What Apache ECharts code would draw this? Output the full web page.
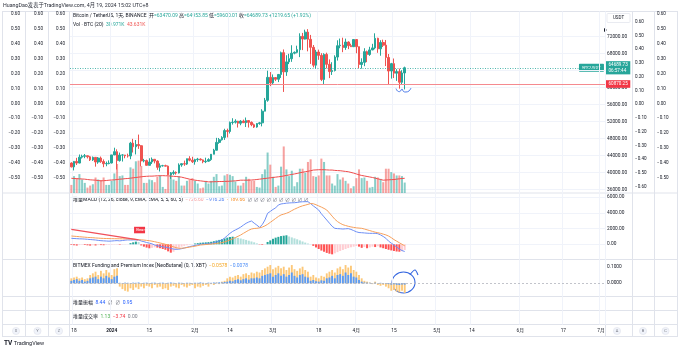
<!DOCTYPE html>
<html>
<head>
<meta charset="utf-8">
<script src="https://cdn.jsdelivr.net/npm/echarts@6/dist/echarts.min.js"></script>
<style>
  html, body { margin: 0; padding: 0; background: #fff; }
  #main { width: 680px; height: 351px; }
</style>
</head>
<body>
<div id="main"></div>
<script>
// daily candles, Dec 17 2023 .. Apr 19 2024 : [open, high, low, close]
const ohlc = [
  [42278,42436,41251,41374],[41374,42757,40530,42657],[42657,43497,41811,42271],[42271,44283,42213,43652],
  [43652,44240,43330,43869],[43869,44398,43412,43997],[43997,44000,43351,43740],[43740,43946,42756,43016],
  [43016,43809,42766,43614],[43614,43638,41424,42520],[42520,43684,42098,43443],[43443,43804,42318,42627],
  [42627,43125,41300,42099],[42099,42612,41520,42156],[42156,42899,41965,42284],
  [42284,44184,42181,44180],[44180,45879,44149,44946],[44946,45500,40750,42846],[42846,44729,42613,44151],
  [44151,44340,42626,44162],[44162,44187,43397,43975],[43975,44481,43561,43929],[43929,47248,43176,46952],
  [46952,47972,44748,46105],[46105,47695,44300,46633],[46633,48969,45606,46346],[46346,46498,41500,42782],
  [42782,43257,42436,42847],[42847,43079,41720,41732],[41732,43400,41718,42511],[42511,43578,42050,43154],
  [43154,43198,42200,42742],[42742,42930,40683,41262],[41262,42196,40280,41618],[41618,41851,41446,41665],
  [41665,41882,41500,41545],[41545,41689,39431,39507],[39507,40129,38555,39845],[39845,40555,39484,40077],
  [40077,40300,39550,39933],[39933,42200,39822,41816],[41816,42200,41395,42120],[42120,42842,41620,42031],
  [42031,43305,41804,43300],[43300,43882,42683,42946],[42946,43745,42276,42580],
  [42580,43285,41884,43082],[43082,43488,42574,43200],[43200,43380,42880,43011],[43011,43119,42222,42582],
  [42582,43535,42259,42708],[42708,43399,42574,43087],[43087,44396,42788,44342],[44342,45614,44331,45293],
  [45293,48200,45242,47132],[47132,48170,46800,47751],[47751,48592,47558,48300],[48300,50334,47710,49917],
  [49917,50368,48300,49699],[49699,52043,49226,51795],[51795,52816,51314,51880],[51880,52572,51566,52124],
  [52124,52191,50625,51642],[51642,52377,51163,52137],[52137,52488,51677,51774],[51774,52985,50760,52258],
  [52258,52366,50625,51849],[51849,52065,50940,51288],[51288,51548,50521,50744],[50744,51698,50585,51569],
  [51569,51950,51280,51728],[51728,54938,50901,54476],[54476,57588,54450,57037],[57037,64000,56691,62432],
  [62432,63676,60364,61130],
  [61130,63114,60777,62387],[62387,62433,61561,61987],[61987,63231,61321,63113],[63113,68499,62300,68245],
  [68245,69000,59005,63724],[63724,67641,62779,66074],[66074,67980,65551,66823],[66823,69990,66082,68124],
  [68124,68541,67861,68313],[68313,69887,68094,68955],[68955,72800,67194,72078],[72078,72890,68845,71452],
  [71452,73650,71333,73072],[73072,73777,68555,71388],[71388,72419,65600,69499],[69499,70043,64780,65300],
  [65300,68904,64533,68393],[68393,68956,66565,67609],[67609,68124,61555,61937],[61937,68100,60775,67840],
  [67840,68240,64529,65501],[65501,66650,62260,63796],[63796,65999,63000,64037],[64037,67622,63825,67211],
  [67211,71150,66385,69880],[69880,71561,69280,69988],[69988,71769,68359,69455],[69455,71552,68903,70745],
  [70745,70913,69076,69892],[69892,70355,69601,69645],[69645,71377,69624,71334],
  [71334,71342,68110,69650],[69650,69674,64550,65463],[65463,66914,64493,65963],[65963,69291,65064,68487],
  [68487,68725,66011,67820],[67820,69629,67491,68896],[68896,70326,68824,69360],[69360,72797,69043,71620],
  [71620,71758,68210,69146],[69146,71172,67518,70631],[70631,71305,69567,70006],[70006,71227,65086,67117],
  [67117,67932,60660,63924],[63924,65840,62134,65662],[65662,66867,62274,63419],[63419,64365,61600,63793],
  [63793,64486,59768,61277],[61277,64125,60833,63470],[63470,64953.85,59600.01,64689.73]
];

// volume in thousands of BTC
const volume = [
  24,50,44,56,40,30,16,22,26,46,40,38,46,24,24,
  36,58,86,50,52,24,24,76,72,94,96,80,30,30,40,38,32,48,52,18,12,50,62,40,36,50,22,22,36,40,44,
  36,28,14,16,36,28,36,48,56,20,22,52,56,54,50,34,22,22,30,48,42,36,36,18,16,56,70,120,84,
  48,18,22,78,138,70,50,66,20,32,72,72,60,92,100,50,48,52,102,92,52,52,28,22,56,40,46,36,28,14,20,
  44,70,44,46,36,16,18,48,46,42,32,72,72,62,58,52,52,50,30.971
];
const volumeMa = [
  43.6,43,42.5,42,41.5,41,40, 39,38.5,38,37,36, 36.5,37,38,38.5,39,40, 41,41.5,42.5,43,44,
  45,46,47,48,49, 49.5,50,50,50.5,51,51,51.5,51,51, 50,49.5,49,48,47, 45,43,41,39.5,38,
  37,36,35,34,33, 33,33.5,33.5,34,34,34.5,34.5, 35,35.5,36,37,38, 38,38,38, 38.5,39,40,41,
  42,43,44,45,46,47,48,49, 50.5,52,53.5,55,56.5,58,60, 61.5,63,64.5,66,68,
  68.5,69,69,69,68.5,68,68, 67,66.5,66,65,64,63, 61,59,56.5,54, 52,50.5,49,47.5,46,
  44,42,40,38, 38.5,39,39.5,40,41, 42,43,43.631
];

const macdLine = [
  766,740,720,700,690,670,640,610,580,550,500,460,
  440,420,400,420,450,470,440,480,530,560,550,
  560,560,560,420,332,230,150,60,-90,
  -180,-260,-330,-360,-430,-540,-610,-640,-620,
  -560,-480,-383,-300,-220,-150,-80,0,
  30,50,70,128,200,310,430,550,
  800,1100,1400,1650,1826,2000,2200,2450,2680,2850,2975,
  2700,2450,2170,2500,3100,3960,
  4200,4450,4650,5020,5150,5200,5250,5280,5300,5310,
  5350,5400,5430,5440,5440,5200,4900,4650,4380,
  3900,3500,3100,2700,2300,2040,
  2000,1980,1950,1980,2000,1900,1750,1600,1500,1480,
  1450,1420,1400,1400,1400,1350,1200,1000,766,
  400,150,-90,-350,-600,-800,-916.26
];
const signalLine = [
  1060,1030,1000,970,940,910,880,860,840,810,790,766,
  750,740,730,720,715,710,705,700,695,690,680,
  660,630,600,570,540,500,460,
  400,330,250,170,90,0,-90,
  -200,-320,-430,-510,
  -500,-470,-420,-360,-300,-240,-170,-90,
  -60,-30,0,30,70,110,150,200,
  300,420,550,700,860,1020,1190,
  1400,1600,1800,1950,2020,2040,
  2100,2200,2350,2550,
  2800,3050,3300,3550,3750,3850,3960,
  4100,4300,4480,4640,4790,4910,5000,5100,5200,
  5180,5050,4900,4750,4580,4380,
  4000,3600,3200,2900,2680,
  2500,2400,2300,2220,2160,2100,2070,2040,
  1950,1850,1750,1650,1550,1480,1400,
  1300,1200,1050,850,600,400,200,0,-189.66
];
const macdHist = [
  -80,-120,-160,-100,-60,-90,-130,-170,-120,-150,-100,
  -100,-120,-90,-70,-60,-50,-40,-60,-40,-30,-10,
  150,250,340,300,
  -150,-300,-420,-510,-450,-380,-420,-500,-600,-700,
  -900,-1070,-950,
  -700,-450,-300,-200,-120,-60,-20,
  100,150,200,220,250,280,
  320,400,480,560,650,750,850,930,970,
  900,820,740,650,560,460,360,250,120,
  -40,-80,-30,
  300,500,700,850,950,1050,1100,1150,
  1000,880,760,640,500,360,220,100,20,
  -200,-400,-600,-800,-950,-1100,-1200,-1280,-1150,
  -1000,-850,-720,-600,-480,-380,-300,-220,
  -300,-450,-350,-500,-400,-300,-350,-250,
  -400,-500,-600,-700,-780,-850,-920,-950,-880,-726.6
];

const funding = [
  0.03,0.035,0.04,0.03,0.035,0.025,0.03,
  0.05,0.06,0.07,0.05,0.075,0.06,0.08,0.065,0.05,0.085,0.09,
  -0.02,-0.035,-0.045,-0.05,-0.03,-0.04,-0.025,-0.035,-0.02,-0.03,
  -0.015,-0.02,-0.03,-0.01,-0.025,-0.02,-0.035,-0.03,-0.04,-0.02,-0.015,-0.025,-0.03,-0.01,-0.02,
  -0.025,-0.015,-0.01,-0.03,-0.02,-0.025,-0.015,-0.01,-0.02,-0.005,-0.01,0.005,-0.005,0.01,0.015,
  0.03,0.04,0.035,0.045,0.05,0.04,0.055,0.06,0.05,0.065,
  0.06,0.07,0.065,0.08,0.09,0.1,0.11,0.085,0.095,0.105,0.09,0.1,0.08,0.095,0.11,0.085,0.075,0.09,0.1,0.08,0.07,
  0.04,0.05,0.035,0.03,0.045,0.04,
  0.06,0.07,0.08,0.065,0.09,0.1,0.085,0.11,0.095,0.105,0.08,0.07,
  0.05,0.03,0.015,0.01,0.005,-0.005,0.01,-0.01,-0.015,-0.01,
  -0.02,-0.03,-0.045,-0.04,-0.05,-0.055,-0.045,-0.0578
];
const premium = [
  0.015,0.02,0.025,0.015,0.02,0.01,0.015,0.03,0.035,0.04,0.025,0.04,0.03,0.045,0.035,0.025,0.04,0.045,
  0.003,0.002,0.004,0.003,0.002,0.004,0.003,0.005,0.002,0.003,0.004,0.002,0.003,0.004,0.002,0.003,
  0.004,0.002,0.003,0.005,0.003,0.002,0.004,0.003,0.002,0.004,0.003,0.002,0.004,0.003,0.005,0.003,
  0.002,0.004,0.003,0.005,0.004,0.006,0.005,0.008,
  0.01,0.015,0.012,0.02,0.025,0.018,0.025,0.03,0.022,0.03,
  0.03,0.035,0.03,0.045,0.05,0.055,0.06,0.04,0.05,0.06,0.045,0.055,0.04,0.05,0.065,0.045,0.035,0.05,0.055,0.04,0.035,
  0.015,0.02,0.012,0.01,0.018,0.015,
  0.03,0.035,0.045,0.03,0.05,0.055,0.045,0.065,0.05,0.06,0.04,0.035,
  0.02,0.01,0.005,0.004,0.003,0.002,0.004,0.002,0.003,0.002,
  -0.003,-0.005,-0.008,-0.006,-0.009,-0.01,-0.007,-0.0078
];

const tickIndex = [1, 15, 29, 46, 59, 75, 92, 106, 120, 136, 149, 167, 183, 197];
const tickText = ['18', '2024', '15', '2月', '14', '3月', '18', '4月', '15', '5月', '14', '6月', '17', '7月'];
const priceTicks = [36000, 40000, 44000, 48000, 52000, 56000, 60000, 64000, 68000, 72000];
const scaleTicksA = [-0.5, -0.4, -0.3, -0.2, -0.1, 0, 0.1, 0.2, 0.3, 0.4, 0.5, 0.6];
const scaleTicksB = [-0.6, -0.5, -0.4, -0.3, -0.2, -0.1, 0, 0.1, 0.2, 0.3, 0.4, 0.5, 0.6];
const macdTicks = [0, 2000, 4000, 6000];
const fundingTicks = [0, 0.1];
const lastPrice = 64689.73;
const levelPrice = 60870.25;

const startDay = Date.UTC(2023, 11, 17);
const categories = Array.from({ length: 199 }, (_, i) => new Date(startDay + i * 864e5).toISOString().slice(0, 10));

const FONT = 'Roboto, "Noto Sans CJK SC", sans-serif';
const UP = '#26a69a', DOWN = '#ef5350';
const GRID = '#f0f3fa', SEP = '#e0e3eb', TXT = '#131722';

const signed = (v, d) => (v < 0 ? '\u2212' + (-v).toFixed(d) : v.toFixed(d));
const labelAt = {};
tickIndex.forEach((k, j) => { labelAt[k] = tickText[j]; });

function xAxisFor(gi, showLabel) {
  return {
    type: 'category', gridIndex: gi, data: categories, boundaryGap: true,
    axisLine: { show: false }, axisTick: { show: false },
    axisLabel: {
      show: showLabel, interval: (i) => labelAt[i] !== undefined, margin: 4,
      fontSize: 4.8, color: TXT, fontFamily: FONT,
      formatter: (v, i) => (labelAt[i] === '2024' ? '{b|2024}' : labelAt[i]),
      rich: { b: { fontWeight: 'bold', fontSize: 4.8, color: TXT } }
    },
    splitLine: { show: true, interval: (i) => labelAt[i] !== undefined, lineStyle: { color: GRID, width: 1 } }
  };
}

function scaleAxis(pos, offset, margin, min, max, ticks) {
  return {
    type: 'value', gridIndex: 0, position: pos, offset: offset, min: min, max: max,
    axisLine: { show: false }, splitLine: { show: false },
    axisTick: { show: false, customValues: ticks },
    axisLabel: { customValues: ticks, margin: margin, fontSize: 4.6, color: TXT, fontFamily: FONT,
      formatter: (v) => signed(v, 2) }
  };
}

const histColor = macdHist.map((v, i) => {
  const p = i ? macdHist[i - 1] : 0;
  if (v >= 0) return v >= p ? '#26a69a' : '#b2dfdb';
  return v <= p ? '#ff5252' : '#ffcdd2';
});

function line(x1, y1, x2, y2, c) {
  return { type: 'line', silent: true, shape: { x1, y1, x2, y2 }, style: { stroke: c || SEP, lineWidth: 1 } };
}
function text(x, y, str, size, rich, extra) {
  return { type: 'text', silent: true, x: x, y: y,
    style: Object.assign({ text: str, fontSize: size, fontFamily: FONT, fill: TXT, verticalAlign: 'middle', rich: rich || {} }, extra || {}) };
}
function badge(x, y, ch) {
  return [
    { type: 'circle', silent: true, shape: { cx: x, cy: y, r: 3.6 }, style: { fill: '#f0f3fa', stroke: '#e0e3eb', lineWidth: 0.6 } },
    text(x, y + 0.2, ch, 4, null, { fill: '#787b86', align: 'center' })
  ];
}

const rc = (c, extra) => Object.assign({ fill: c, fontSize: 5, fontFamily: FONT }, extra || {});
const graphics = [
  line(2, 11.5, 678, 11.5), line(2, 193, 678, 193), line(2, 259.5, 678, 259.5),
  line(2, 296.5, 678, 296.5), line(2, 310.5, 678, 310.5), line(2, 324.5, 678, 324.5), line(2, 336.5, 678, 336.5),
  line(2.5, 11.5, 2.5, 336.5), line(25.5, 11.5, 25.5, 336.5), line(48.5, 11.5, 48.5, 336.5), line(69.5, 11.5, 69.5, 336.5),
  line(605.5, 11.5, 605.5, 336.5), line(632.5, 11.5, 632.5, 336.5), line(654.5, 11.5, 654.5, 336.5), line(677.5, 11.5, 677.5, 336.5),
  text(3, 6, 'HuangDao发表于TradingView.com, 4月 19, 2024 15:02 UTC+8', 5.3, null, { fill: '#2a2e39' }),
  text(73, 15.5, '{d|Bitcoin / TetherUS, 1天, BINANCE  开}{g|=63470.09} {d|高}{g|=64953.85} {d|低}{g|=59600.01} {d|收}{g|=64689.73} {g|+1219.65 (+1.92%)}', 5,
    { d: rc(TXT), g: rc(UP) }),
  text(73, 24.5, '{d|Vol · BTC (20)}  {g|30.971K}  {r|43.631K}', 5, { d: rc(TXT), g: rc(UP), r: rc(DOWN) }),
  text(73, 200, '{d|堆量MACD (12, 26, close, 9, EMA, EMA, 5, 5, 60, 5)}  {h|\u2212726.60}  {b|\u2212916.26}  {o|\u2212189.66}  {n|∅ ∅ ∅ ∅ ∅ ∅ ∅ ∅ ∅ ∅}', 5,
    { d: rc(TXT), h: rc('#f59ea0'), b: rc('#4f7ff0'), o: rc('#f5922f'), n: rc('#787b86') }),
  text(73, 265.7, '{d|BITMEX Funding and Premium Index [NeoButane] (0, 1, XBT)}  {o|\u22120.0578}  {b|\u22120.0078}', 5,
    { d: rc(TXT), o: rc('#f5a623'), b: rc('#4f8ff7') }),
  text(73, 302.5, '{d|堆量振幅}  {b|8.44}  {n|∅  ∅}  {b|0.95}', 5, { d: rc(TXT), b: rc('#2962ff'), n: rc('#787b86') }),
  text(73, 316.5, '{d|堆量成交率}  {g|1.13}  {r|\u22123.74}  {n|0.00}', 5, { d: rc(TXT), g: rc('#4caf50'), r: rc('#f23645'), n: rc('#787b86') }),
  { type: 'rect', silent: true, shape: { x: 607, y: 13.5, width: 23, height: 9, r: 1 }, style: { fill: '#fff', stroke: SEP, lineWidth: 0.7 } },
  text(618.5, 18, 'USDT', 4.5, null, { align: 'center' }),
  { type: 'polygon', silent: true, shape: { points: [[604, 28], [607, 30], [604, 32]] }, style: { fill: '#131722' } },
  { type: 'polyline', silent: true, shape: { points: [[396, 88.5], [397.5, 91], [400, 91.5], [402, 89], [403.5, 91.5], [406, 92], [409, 91], [411, 88]], smooth: 0.4 },
    style: { stroke: '#3d6fe6', lineWidth: 0.9, fill: null } },
  { type: 'ellipse', silent: true, shape: { cx: 403.5, cy: 282.5, rx: 11.5, ry: 10.5 }, style: { stroke: '#3466e0', lineWidth: 1.1, fill: null } },
  { type: 'polyline', silent: true, shape: { points: [[410, 274.5], [415, 270], [418, 275]], smooth: 0.3 }, style: { stroke: '#3466e0', lineWidth: 1.1, fill: null } },
  text(4, 343.5, '{l|TV} {t|TradingView}', 6, { l: { fontSize: 6.5, fontWeight: 'bold', fill: TXT, fontFamily: FONT }, t: { fontSize: 5.5, fill: TXT, fontFamily: FONT } })
].concat(badge(16, 331, 'X'), badge(37.5, 331, 'Y'), badge(59, 331, 'Z'), badge(617, 331, 'A'), badge(643, 331, 'B'), badge(665.5, 331, 'C'));

const option = {
  animation: false,
  textStyle: { fontFamily: FONT },
  grid: [
    { left: 70, right: 75, top: 11.5, height: 181.5 },
    { left: 70, right: 75, top: 193.5, height: 66 },
    { left: 70, right: 75, top: 259.5, height: 37 },
    { left: 70, right: 75, top: 296.5, height: 14 },
    { left: 70, right: 75, top: 310.5, height: 14 }
  ],
  xAxis: [xAxisFor(0, false), xAxisFor(1, false), xAxisFor(2, false), xAxisFor(3, false), xAxisFor(4, true)],
  yAxis: [
    { type: 'value', gridIndex: 0, position: 'right', min: 35224, max: 77929,
      axisLine: { show: false }, axisTick: { show: false, customValues: priceTicks },
      axisLabel: { customValues: priceTicks, margin: 2, fontSize: 4.8, color: TXT, formatter: (v) => v.toFixed(2) },
      splitLine: { show: true, lineStyle: { color: GRID } } },
    { type: 'value', gridIndex: 0, min: 0, max: 538, show: false },
    scaleAxis('left', 0, 5, -0.6013, 0.6168, scaleTicksA),
    scaleAxis('left', 22, 5, -0.6013, 0.6168, scaleTicksA),
    scaleAxis('left', 45, 5, -0.6013, 0.6168, scaleTicksA),
    scaleAxis('right', 27, 3, -0.6458, 0.6742, scaleTicksB),
    scaleAxis('right', 49, 3, -0.6013, 0.6168, scaleTicksA),
    { type: 'value', gridIndex: 1, position: 'right', min: -1940, max: 6485,
      axisLine: { show: false }, axisTick: { show: false, customValues: macdTicks },
      axisLabel: { customValues: macdTicks, margin: 2, fontSize: 4.8, color: TXT, formatter: (v) => v.toFixed(2) },
      splitLine: { show: true, lineStyle: { color: GRID } } },
    { type: 'value', gridIndex: 2, position: 'right', min: -0.0795, max: 0.1434,
      axisLine: { show: false }, axisTick: { show: false, customValues: fundingTicks },
      axisLabel: { customValues: fundingTicks, margin: 2, fontSize: 4.8, color: TXT, formatter: (v) => v.toFixed(4) },
      splitLine: { show: false } },
    { type: 'value', gridIndex: 3, min: 0, max: 1, show: false },
    { type: 'value', gridIndex: 4, min: 0, max: 1, show: false }
  ],
  series: [
    { name: 'Vol', type: 'bar', xAxisIndex: 0, yAxisIndex: 1, barWidth: '75%',
      data: volume.map((v, i) => ({ value: v, itemStyle: { color: ohlc[i][3] >= ohlc[i][0] ? 'rgba(38,166,154,0.55)' : 'rgba(239,83,80,0.55)' } })) },
    { name: 'Vol MA', type: 'line', xAxisIndex: 0, yAxisIndex: 1, data: volumeMa, symbol: 'none',
      lineStyle: { color: '#ef4b4b', width: 1 } },
    { name: 'BTCUSDT', type: 'candlestick', xAxisIndex: 0, yAxisIndex: 0, barWidth: '78%',
      data: ohlc.map((d) => [d[0], d[3], d[2], d[1]]),
      itemStyle: { color: UP, color0: DOWN, borderColor: UP, borderColor0: DOWN, borderWidth: 1 },
      markLine: {
        symbol: ['none', 'none'], silent: true, animation: false,
        data: [
          { yAxis: levelPrice, lineStyle: { color: '#f58a8f', width: 1, type: 'solid' },
            label: { show: true, position: 'end', distance: 1, formatter: levelPrice.toFixed(2), backgroundColor: '#f23645',
              color: '#fff', padding: [1.5, 2.5], fontSize: 4.6, fontFamily: FONT } },
          { yAxis: lastPrice, lineStyle: { color: UP, width: 0.8, type: [1, 1.5] },
            label: { show: true, position: 'end', distance: 1, formatter: lastPrice.toFixed(2) + '\n06:57:44', backgroundColor: UP,
              color: '#fff', padding: [1, 2.5], fontSize: 4.6, lineHeight: 5.6, fontFamily: FONT } }
        ]
      } },
    { name: 'Hist', type: 'bar', xAxisIndex: 1, yAxisIndex: 7, barWidth: '75%',
      data: macdHist.map((v, i) => ({ value: v, itemStyle: { color: histColor[i] } })) },
    { name: 'MACD', type: 'line', xAxisIndex: 1, yAxisIndex: 7, data: macdLine, symbol: 'none',
      lineStyle: { color: '#6e8ff5', width: 1 } },
    { name: 'Signal', type: 'line', xAxisIndex: 1, yAxisIndex: 7, data: signalLine, symbol: 'none',
      lineStyle: { color: '#f7a05c', width: 1 },
      markLine: { symbol: ['none', 'none'], silent: true, label: { show: false },
        lineStyle: { color: '#f0505a', width: 1.3, type: 'solid' },
        data: [[{ coord: [0, 1915] }, { coord: [25, 560] }]] },
      markPoint: { silent: true, data: [{ coord: [25, 1820], symbol: 'rect', symbolSize: [11, 6.5], symbolOffset: [1, 0],
        itemStyle: { color: '#f23645' },
        label: { show: true, position: 'inside', formatter: 'Bear', color: '#fff', fontSize: 4.2, offset: [1, 0] } }] } },
    { name: 'Funding', type: 'bar', xAxisIndex: 2, yAxisIndex: 8, barWidth: '70%', barGap: '-100%', data: funding,
      itemStyle: { color: '#fcc879' },
      markLine: { symbol: ['none', 'none'], silent: true, label: { show: false },
        lineStyle: { color: '#b2b5be', width: 0.8, type: [2, 2] }, data: [{ yAxis: 0 }] } },
    { name: 'Premium', type: 'bar', xAxisIndex: 2, yAxisIndex: 8, barWidth: '70%', barGap: '-100%', data: premium,
      itemStyle: { color: '#5b9cf6' } }
  ],
  graphic: graphics
};

const chart = echarts.init(document.getElementById('main'), null, { renderer: 'canvas' });
chart.setOption(option);

// symbol tag sitting on the last-price line, left of the price scale
const tagY = chart.convertToPixel({ yAxisIndex: 0 }, lastPrice);
const tagX = chart.convertToPixel({ xAxisIndex: 0 }, categories[categories.length - 1]) + 1.3;
chart.setOption({
  graphic: graphics.concat([
    { type: 'rect', silent: true, shape: { x: tagX - 26, y: tagY - 4, width: 25, height: 8, r: 0.8 }, style: { fill: UP } },
    text(tagX - 13.5, tagY + 0.2, 'BTCUSDT', 4.3, null, { fill: '#fff', align: 'center' })
  ])
});
</script>
</body>
</html>
